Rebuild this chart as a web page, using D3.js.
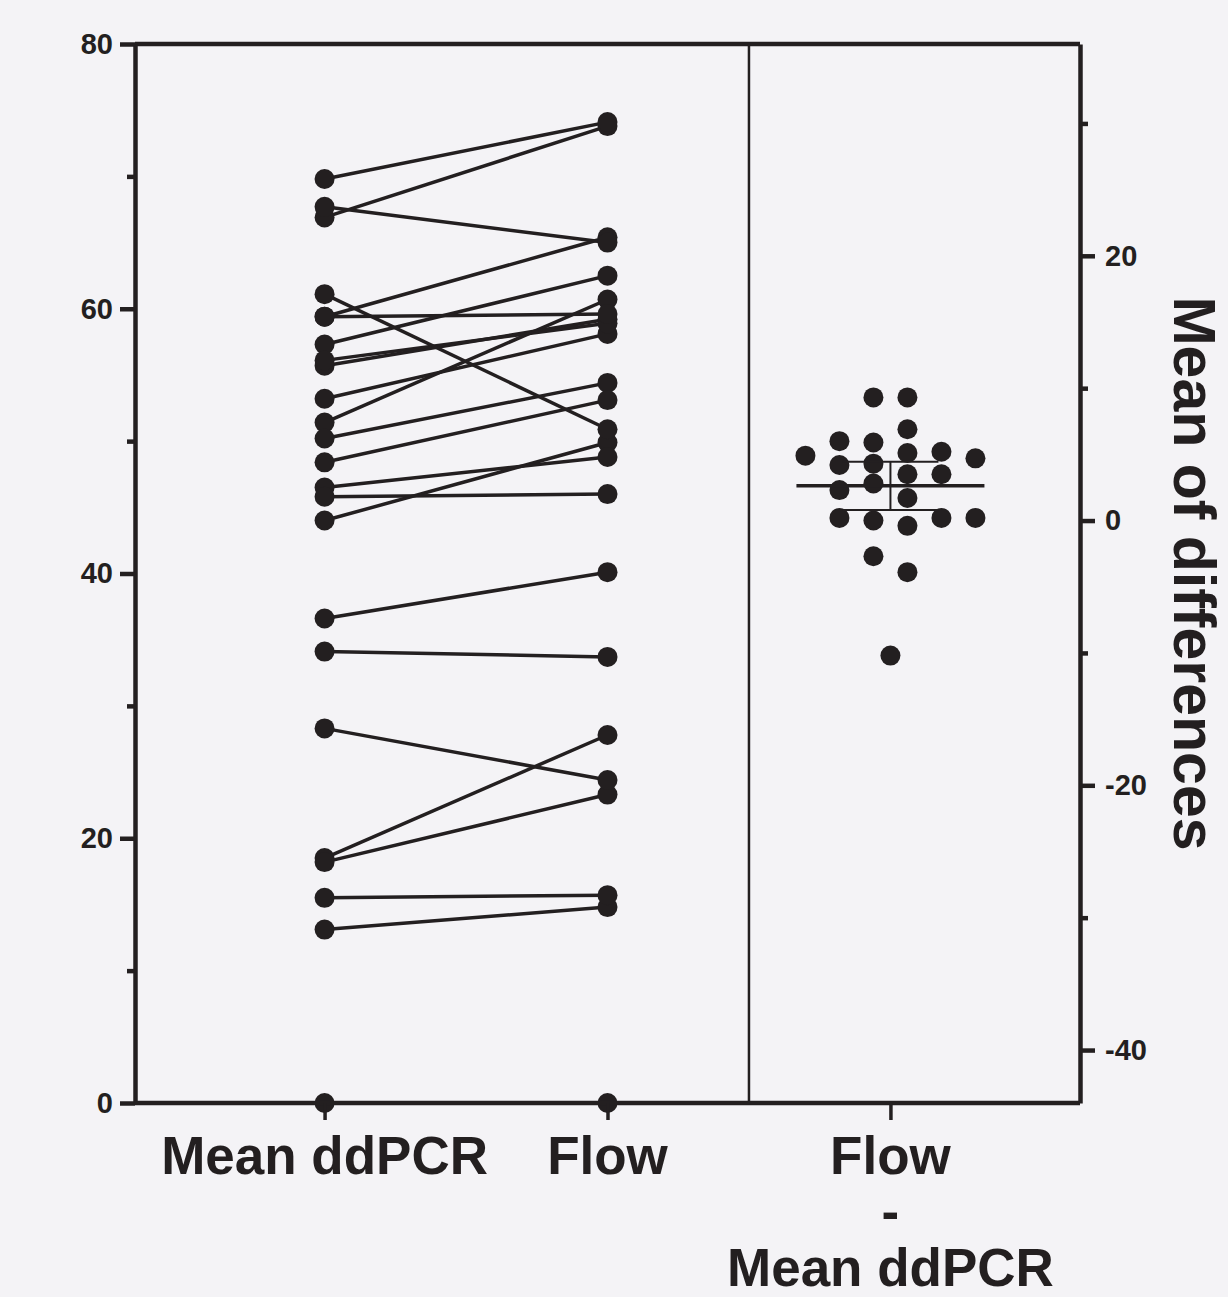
<!DOCTYPE html>
<html>
<head>
<meta charset="utf-8">
<script src="https://cdn.jsdelivr.net/npm/d3@7"></script>
<style>
  body { margin: 0; background: #f4f3f6; }
  svg { display: block; }
</style>
</head>
<body>
<div id="chart_div"></div>
<script>
// paired samples, Prism table order
const categories = ["Mean ddPCR", "Flow", "Flow - Mean ddPCR"];
const ddpcrValues = [51.4, 18.5, 44.0, 66.9, 18.2, 59.4, 57.3, 69.8, 50.2, 48.4, 53.2, 55.7,
                     36.6, 56.1, 46.5, 13.1, 0, 34.1, 15.5, 59.4, 45.8, 67.7, 28.3, 61.1];
const flowValues = [60.7, 27.8, 49.9, 73.8, 23.3, 65.4, 62.5, 74.1, 54.4, 53.1, 58.1, 59.2,
                    40.1, 58.9, 48.8, 14.8, 0, 33.7, 15.7, 59.6, 46.0, 65.0, 24.4, 50.9];
const leftTicks = [0, 20, 40, 60, 80];
const leftMinorTicks = [10, 30, 50, 70];
const rightTicks = [-40, -20, 0, 20];
const rightMinorTicks = [-30, -10, 10, 30];
const rightTitle = "Mean of differences";

const width = 1228, height = 1297;
const margin = {top: 44, right: 148, bottom: 194, left: 135};
const ink = "#231f20";
const font = "'Liberation Sans', Arial, sans-serif";
const dotR = 10;

const diffs = flowValues.map((f, i) => Math.round((f - ddpcrValues[i]) * 10) / 10);

// prism style scatter: points go to the first free column slot
function swarmSlots(values, minGap) {
    const order = [-1, 1, -3, 3, 5, -5, -7, 7];
    const placed = [];
    return values.map(function(v, i) {
        const alone = values.every((w, j) => j === i || Math.abs(w - v) >= minGap);
        let slot = 0;
        if (!alone) {
            slot = order.find(s => !placed.some(p => p.slot === s && Math.abs(p.v - v) < minGap));
        }
        placed.push({v: v, slot: slot});
        return slot;
    });
}
const slots = swarmSlots(diffs, 1.4);

const n = diffs.length;
const meanDiff = d3.mean(diffs);
const ci = 2.069 * d3.deviation(diffs) / Math.sqrt(n); // t(0.975, 23)

const svg = d3.select("#chart_div")
    .append("svg")
    .attr("width", width)
    .attr("height", height);

svg.append("rect")
    .attr("width", width)
    .attr("height", height)
    .attr("fill", "#f4f3f6");

const plotW = width - margin.left - margin.right;
const plotH = height - margin.top - margin.bottom;

const g = svg.append("g")
    .attr("transform", "translate(" + margin.left + "," + margin.top + ")");

let xScale = d3.scalePoint()
    .domain(categories)
    .range([0, plotW])
    .padding(0.67);

let yLeft = d3.scaleLinear().domain([0, 80]).range([plotH, 0]);
let yRight = d3.scaleLinear().domain([-44, 36]).range([plotH, 0]);

// frame: top line and divider between panels
g.append("line")
    .attr("x1", 0).attr("x2", plotW)
    .attr("y1", 0).attr("y2", 0)
    .attr("stroke", ink).attr("stroke-width", 4.5);

const dividerX = (xScale(categories[1]) + xScale(categories[2])) / 2;
g.append("line")
    .attr("x1", dividerX).attr("x2", dividerX)
    .attr("y1", 0).attr("y2", plotH)
    .attr("stroke", ink).attr("stroke-width", 2.5);

// paired lines
const pairs = ddpcrValues.map((d, i) => [d, flowValues[i]]);
g.append("g")
    .selectAll("line")
    .data(pairs)
    .join("line")
    .attr("x1", xScale(categories[0]))
    .attr("x2", xScale(categories[1]))
    .attr("y1", d => yLeft(d[0]))
    .attr("y2", d => yLeft(d[1]))
    .attr("stroke", ink)
    .attr("stroke-width", 3.5);

g.append("g")
    .selectAll("circle")
    .data(ddpcrValues.map(v => [categories[0], v]).concat(flowValues.map(v => [categories[1], v])))
    .join("circle")
    .attr("cx", d => xScale(d[0]))
    .attr("cy", d => yLeft(d[1]))
    .attr("r", dotR)
    .attr("fill", ink);

// differences
const slotStep = 17;
g.append("g")
    .selectAll("circle")
    .data(diffs)
    .join("circle")
    .attr("cx", (d, i) => xScale(categories[2]) + slots[i] * slotStep)
    .attr("cy", d => yRight(d))
    .attr("r", dotR)
    .attr("fill", ink);

const cx = xScale(categories[2]);
g.append("line")
    .attr("x1", cx - 94).attr("x2", cx + 94)
    .attr("y1", yRight(meanDiff)).attr("y2", yRight(meanDiff))
    .attr("stroke", ink).attr("stroke-width", 3.5);
g.append("line")
    .attr("x1", cx).attr("x2", cx)
    .attr("y1", yRight(meanDiff + ci)).attr("y2", yRight(meanDiff - ci))
    .attr("stroke", ink).attr("stroke-width", 2);
g.append("g")
    .selectAll("line")
    .data([meanDiff + ci, meanDiff - ci])
    .join("line")
    .attr("x1", cx - 48).attr("x2", cx + 48)
    .attr("y1", d => yRight(d)).attr("y2", d => yRight(d))
    .attr("stroke", ink).attr("stroke-width", 2);

// axes
function styleAxis(sel, w) {
    sel.selectAll("path, line").attr("stroke", ink).attr("stroke-width", w);
    sel.selectAll("text")
        .attr("fill", ink)
        .style("font-family", font)
        .style("font-weight", "bold")
        .style("font-size", "29px");
}

g.append("g")
    .call(d3.axisLeft(yLeft).tickValues(leftTicks).tickSize(15).tickSizeOuter(0).tickPadding(7))
    .call(styleAxis, 4.5);
g.append("g")
    .call(d3.axisLeft(yLeft).tickValues(leftMinorTicks).tickSize(8).tickFormat(""))
    .call(sel => sel.select(".domain").remove())
    .call(styleAxis, 4.5);

g.append("g")
    .attr("transform", "translate(" + plotW + ",0)")
    .call(d3.axisRight(yRight).tickValues(rightTicks).tickSize(15).tickSizeOuter(0).tickPadding(10)
        .tickFormat(d => String(d)))
    .call(styleAxis, 4.5);
g.append("g")
    .attr("transform", "translate(" + plotW + ",0)")
    .call(d3.axisRight(yRight).tickValues(rightMinorTicks).tickSize(8).tickFormat(""))
    .call(sel => sel.select(".domain").remove())
    .call(styleAxis, 4.5);

const xAxis = g.append("g")
    .attr("transform", "translate(0," + plotH + ")")
    .call(d3.axisBottom(xScale).tickSize(17).tickSizeOuter(0).tickFormat(""));
xAxis.select(".domain")
    .attr("d", "M0,0H" + plotW)
    .attr("stroke", ink).attr("stroke-width", 4.5);
xAxis.selectAll(".tick line").attr("stroke", ink).attr("stroke-width", 3.5);

// category labels, the difference one split on three lines
const labelLines = categories.map(c => c.includes(" - ") ? [c.split(" - ")[0], "-", c.split(" - ")[1]] : [c]);
g.append("g")
    .selectAll("text")
    .data(categories)
    .join("text")
    .attr("x", d => xScale(d))
    .attr("y", plotH + 71)
    .attr("text-anchor", "middle")
    .attr("fill", ink)
    .style("font-family", font)
    .style("font-weight", "bold")
    .style("font-size", "53px")
    .selectAll("tspan")
    .data((d, i) => labelLines[i])
    .join("tspan")
    .attr("x", function() { return this.parentNode.getAttribute("x"); })
    .attr("dy", (d, i) => i === 0 ? 0 : 56)
    .text(d => d);

svg.append("text")
    .attr("transform", "translate(1174," + (margin.top + plotH / 2) + ") rotate(90)")
    .attr("text-anchor", "middle")
    .attr("fill", ink)
    .style("font-family", font)
    .style("font-weight", "bold")
    .style("font-size", "59px")
    .text(rightTitle);
</script>
</body>
</html>
